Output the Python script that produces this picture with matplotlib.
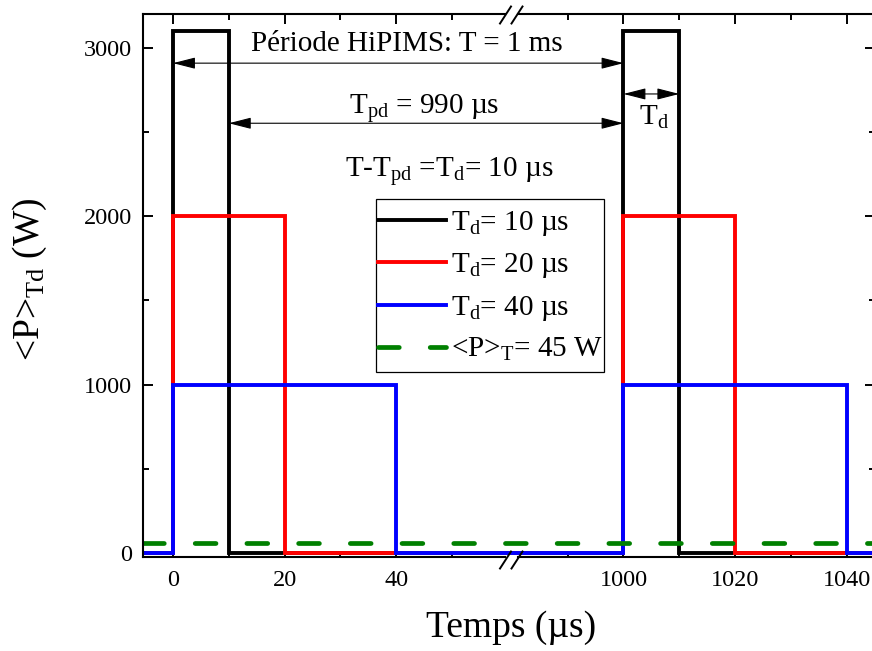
import matplotlib
matplotlib.use("Agg")
import matplotlib.pyplot as plt
from matplotlib.lines import Line2D
from matplotlib.patches import Rectangle
import numpy as np

plt.rcParams['font.family'] = ['Liberation Serif', 'DejaVu Serif']
plt.rcParams['mathtext.fontset'] = 'custom'
plt.rcParams['mathtext.rm'] = 'Liberation Serif'
plt.rcParams['mathtext.it'] = 'Liberation Serif:italic'
plt.rcParams['mathtext.bf'] = 'Liberation Serif:bold'

# ---------------- data ----------------
pulse_durations = [10, 20, 40]          # µs
pulse_amplitudes = [3100, 2000, 1000]   # W
series_colors = ['#000000', '#ff0000', '#0000ff']
series_labels = [r'T$_\mathrm{d}$= 10 µs', r'T$_\mathrm{d}$= 20 µs', r'T$_\mathrm{d}$= 40 µs']
period = 1000                           # µs
mean_power = 57                         # W (as drawn)
mean_label = r'<P>$_\mathrm{T}$= 45 W'

x_ticks_left = [0, 20, 40]
x_minor_left = [10, 30, 50]
x_ticks_right = [1000, 1020, 1040]
x_minor_right = [990, 1010, 1030]
y_ticks = [0, 1000, 2000, 3000]
y_minor = [500, 1500, 2500]

xlim_left = (-5.38, 60.57)
xlim_right = (979.84, 1045.07)
ylim = (-23.8, 3202)
t_start, t_end = xlim_left[0], 1060

W, H = 872, 651
fig = plt.figure(figsize=(W / 100, H / 100), dpi=100)
bot = (H - 557) / H
hgt = (557 - 14) / H
ax1 = fig.add_axes([143 / W, bot, (511 - 143) / W, hgt])
ax2 = fig.add_axes([511 / W, bot, (875 - 511) / W, hgt])
ax2.patch.set_visible(False)

# start of the dashed line on the right part, so its dash pattern continues the left one
mean_start = {ax1: t_start, ax2: xlim_right[0] - (xlim_left[1] - xlim_left[0])}

handles = []
for ax in (ax1, ax2):
    for d, a, c, lab in zip(pulse_durations, pulse_amplitudes, series_colors, series_labels):
        xs = [t_start, 0, 0, d, d, period, period, period + d, period + d, t_end]
        ys = [0, 0, a, a, 0, 0, a, a, 0, 0]
        ln, = ax.plot(xs, ys, color=c, lw=2.8, solid_joinstyle='miter', label=lab)
        if ax is ax1:
            handles.append(ln)
    gl, = ax.plot([mean_start[ax], t_end], [mean_power, mean_power], color='#008000',
                  lw=3.4, dashes=(4.4, 6.55), dash_capstyle='round', label=mean_label)
    if ax is ax1:
        handles.append(gl)
    ax.set_ylim(*ylim)
    ax.set_yticks(y_ticks)
    ax.set_yticks(y_minor, minor=True)
    for s in ax.spines.values():
        s.set_linewidth(1.5)
    ax.tick_params(which='both', direction='in', width=1.4, labelsize=17.5, pad=9)
    ax.tick_params(which='major', length=7.5)
    ax.tick_params(which='minor', length=4.3)

ax1.set_xlim(*xlim_left)
ax1.set_xticks(x_ticks_left)
ax1.set_xticks(x_minor_left, minor=True)
ax1.tick_params(which='both', top=True, right=False, left=True)
ax1.tick_params(axis='y', pad=8)
ax1.spines['right'].set_visible(False)
ax1.spines['top'].set_bounds(xlim_left[0], 59.5)
ax1.spines['bottom'].set_bounds(xlim_left[0], 59.5)

ax2.set_xlim(*xlim_right)
ax2.set_xticks(x_ticks_right)
ax2.set_xticks(x_minor_right, minor=True)
ax2.tick_params(which='both', top=True, right=True, left=False, labelleft=False)
ax2.spines['left'].set_visible(False)
ax2.spines['top'].set_bounds(981.1, xlim_right[1])
ax2.spines['bottom'].set_bounds(981.1, xlim_right[1])

# break marks (figure pixel coords)
def px(x, y):
    return x / W, 1 - y / H
for yc in (15, 560):
    for xc in (505.5, 517):
        (x0, y0), (x1, y1) = px(xc - 5.5, yc + 8.5), px(xc + 5.5, yc - 8.5)
        fig.add_artist(Line2D([x0, x1], [y0, y1], transform=fig.transFigure,
                              color='black', lw=1.4, clip_on=False))

# arrows and annotations
arrow_kw = dict(arrowstyle='<|-|>,head_length=0.55,head_width=0.14', color='black',
                lw=0.8, shrinkA=0, shrinkB=0, mutation_scale=25)
ax1.annotate('', xy=(period, 2910), xycoords=ax2.transData,
             xytext=(0, 2910), textcoords=ax1.transData, arrowprops=arrow_kw,
             annotation_clip=False)
ax1.annotate('', xy=(period, 2553), xycoords=ax2.transData,
             xytext=(pulse_durations[0], 2553), textcoords=ax1.transData,
             arrowprops=arrow_kw, annotation_clip=False)
ax2.annotate('', xy=(period + pulse_durations[0], 2727), xytext=(period, 2727),
             arrowprops=arrow_kw, annotation_clip=False)

fs = 21
ax1.text(41.9, 2984, 'Période HiPIMS: T = 1 ms', fontsize=fs, ha='center',
         va='baseline', clip_on=False)
ax1.text(45.0, 2608, r'T$_\mathrm{pd}$ = 990 µs', fontsize=fs, ha='center',
         va='baseline', clip_on=False)
ax1.text(49.5, 2235, r'T-T$_\mathrm{pd}$ =T$_\mathrm{d}$= 10 µs', fontsize=fs,
         ha='center', va='baseline', clip_on=False)
ax2.text(1005.4, 2543, r'T$_\mathrm{d}$', fontsize=fs, ha='center', va='baseline')

# legend frame and entries
(fx, fy) = px(375.7, 372)
fig.add_artist(Rectangle((fx, fy), (604 - 375.7) / W, (372 - 199) / H,
                         transform=fig.transFigure, facecolor='white',
                         edgecolor='black', lw=0.9, zorder=4.9))
leg = fig.legend(handles=handles, loc='upper left',
                 bbox_to_anchor=px(378, 209), fontsize=fs,
                 frameon=False, borderpad=0, handlelength=2.33, handletextpad=0.17,
                 labelspacing=0.46, borderaxespad=0)

fig.text(511 / W, 1 - 628 / H, 'Temps (µs)', fontsize=27, ha='center', va='center')
fig.text(30 / W, 1 - 279 / H, r'<P>$_\mathrm{Td}$ (W)', fontsize=27, ha='center',
         va='center', rotation=90)

fig.savefig('out.png', dpi=100)
